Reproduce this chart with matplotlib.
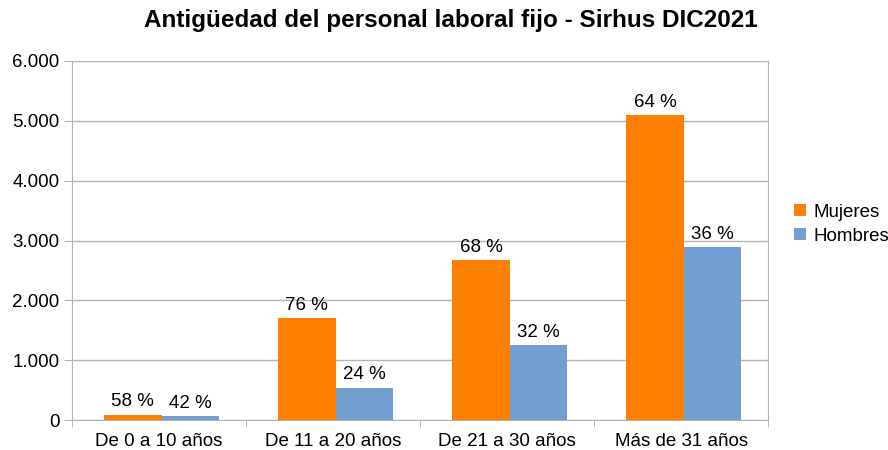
import matplotlib.pyplot as plt
import numpy as np
from matplotlib.ticker import FuncFormatter, FixedLocator

plt.rcParams['font.family'] = ['Liberation Sans', 'DejaVu Sans']

categorias = ['De 0 a 10 años', 'De 11 a 20 años', 'De 21 a 30 años', 'Más de 31 años']
mujeres = [95, 1705, 2670, 5090]
hombres = [70, 540, 1255, 2885]
pct_mujeres = ['58 %', '76 %', '68 %', '64 %']
pct_hombres = ['42 %', '24 %', '32 %', '36 %']

naranja = '#ff8000'
azul = '#729fcf'
gris = '#b3b3b3'

fig = plt.figure(figsize=(8.88, 4.5), dpi=100)
ax = fig.add_axes([0.081, 0.066, 0.784, 0.799])

x = np.arange(len(categorias))
w = 0.33
b1 = ax.bar(x - w / 2 + 0.015, mujeres, w, color=naranja, label='Mujeres', zorder=3)
b2 = ax.bar(x + w / 2 + 0.015, hombres, w, color=azul, label='Hombres', zorder=3)

for rect, t in zip(b1, pct_mujeres):
    ax.text(rect.get_x() + rect.get_width() / 2, rect.get_height() + 75, t,
            ha='center', va='bottom', fontsize=13.5)
for rect, t in zip(b2, pct_hombres):
    ax.text(rect.get_x() + rect.get_width() / 2, rect.get_height() + 75, t,
            ha='center', va='bottom', fontsize=13.5)

ax.set_xlim(-0.5, 3.5)
ax.set_ylim(0, 6000)
ax.set_yticks(range(0, 6001, 1000))
ax.yaxis.set_major_formatter(FuncFormatter(lambda v, p: f'{int(v):,}'.replace(',', '.')))
ax.set_xticks(x)
ax.set_xticklabels(categorias, fontsize=13.5)
ax.xaxis.set_minor_locator(FixedLocator([-0.5, 0.5, 1.5, 2.5, 3.5]))
ax.tick_params(axis='x', which='major', length=0, pad=9)
ax.tick_params(axis='x', which='minor', length=5, color=gris)
ax.tick_params(axis='y', labelsize=13.5, length=6, color=gris, pad=3)

ax.grid(axis='y', color=gris, linewidth=1, zorder=0)
for s in ax.spines.values():
    s.set_color(gris)

fig.text(0.508, 0.955, 'Antigüedad del personal laboral fijo - Sirhus DIC2021',
         fontsize=17.5, fontweight='bold', ha='center', va='center')

ax.legend(loc='center left', bbox_to_anchor=(1.027, 0.545), frameon=False,
          fontsize=13.5, handlelength=0.6, handleheight=0.6, handletextpad=0.4,
          labelspacing=0.38, borderaxespad=0)

plt.savefig('out.png', dpi=100)
